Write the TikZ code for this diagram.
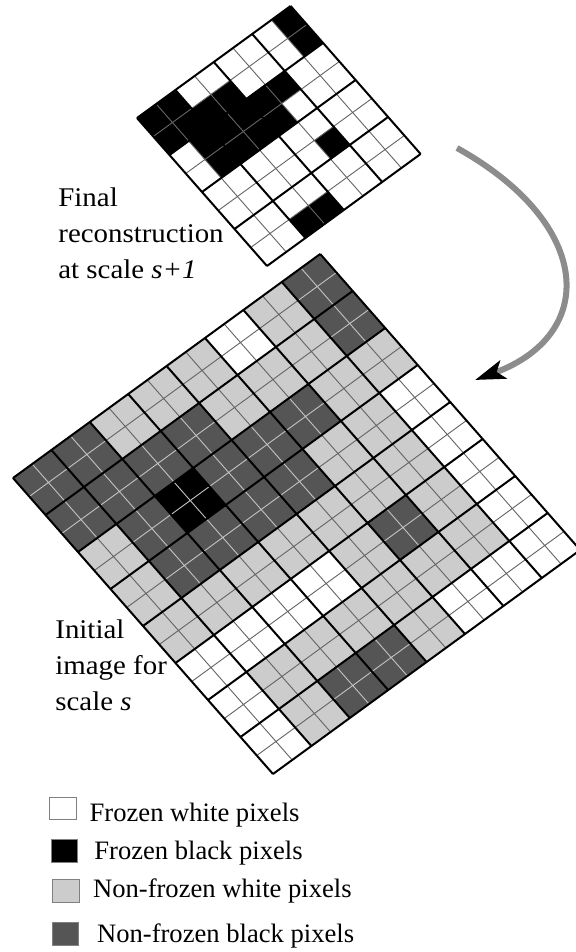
\documentclass[tikz,border=0pt]{standalone}
\usepackage{fontspec}
\setmainfont{Liberation Serif}
\newfontfamily\lblfont{Liberation Serif}[FakeStretch=1.07]
\usetikzlibrary{arrows.meta}
\definecolor{cFW}{RGB}{255,255,255}
\definecolor{cFB}{RGB}{0,0,0}
\definecolor{cNW}{RGB}{204,204,204}
\definecolor{cNB}{RGB}{85,85,85}
\definecolor{arrowgray}{RGB}{140,140,140}
\definecolor{thindark}{RGB}{100,100,100}
\definecolor{thinlight}{RGB}{195,195,195}
\definecolor{boxedge}{RGB}{128,128,128}
\tikzset{
  thinline/.style={line width=0.45pt},
  thinFW/.style={draw=thindark},
  thinNW/.style={draw=thindark},
  thinNB/.style={draw=thinlight},
  thinFB/.style={draw=thinlight},
  thickline/.style={line width=1pt, draw=black},
  gridframe/.style={x={(9.6pt,7pt)}, y={(8.125pt,-9.25pt)}},
  labeltext/.style={inner sep=0pt, anchor=north west, align=left,
    font=\lblfont\fontsize{13.5}{18}\selectfont},
  legendtext/.style={inner sep=0pt, anchor=base west,
    font=\fontsize{13.3}{16}\selectfont},
  legendbox/.style={inner sep=0pt, minimum width=13.4pt, minimum height=11.4pt,
    draw=boxedge, line width=0.5pt},
  bigarrow/.style={draw=arrowgray, line width=3pt,
    -{Stealth[length=15pt, width=9.5pt, inset=3.5pt, black]}}
}
\begin{document}
\begin{tikzpicture}[x=0.5pt, y=-0.5pt]
\useasboundingbox (0,0) rectangle (575,952);

% ---------- top grid: final reconstruction at scale s+1 ----------
\begin{scope}[shift={(137,118)}, gridframe]
  \foreach \rowlist [count=\ri from 0] in {
      {FB,FB,FW,FW,FW,FW,FW,FB},
      {FB,FB,FB,FB,FW,FW,FW,FB},
      {FW,FB,FB,FB,FB,FB,FW,FW},
      {FW,FB,FB,FB,FB,FW,FW,FW},
      {FW,FW,FW,FW,FW,FW,FW,FW},
      {FW,FW,FW,FW,FW,FB,FW,FW},
      {FW,FW,FW,FW,FW,FW,FW,FW},
      {FW,FW,FB,FB,FW,FW,FW,FW}} {
    \foreach \cc [count=\ci from 0] in \rowlist {
      \fill[c\cc] (\ci,\ri) -- ++(1,0) -- ++(0,1) -- ++(-1,0) -- cycle;
    }
  }
  \foreach \i in {1,3,5,7} {
    \draw[thinline, draw=thindark] (\i,0) -- (\i,8) (0,\i) -- (8,\i);
  }
  \foreach \i in {0,2,4,6,8} {
    \draw[thickline] (\i,0) -- (\i,8) (0,\i) -- (8,\i);
  }
\end{scope}

% ---------- bottom grid: initial image for scale s ----------
\begin{scope}[shift={(13,478)}, gridframe]
  \foreach \rowlist [count=\ri from 0] in {
      {NB,NB,NW,NW,NW,FW,NW,NB},
      {NB,NB,NB,NB,NW,NW,NW,NB},
      {NW,NB,FB,NB,NB,NB,NW,NW},
      {NW,NB,NB,NB,NB,NW,NW,FW},
      {NW,NW,NW,NW,NW,NW,NW,FW},
      {FW,FW,FW,FW,NW,NB,NW,FW},
      {FW,NW,NW,NW,NW,NW,NW,FW},
      {FW,NW,NB,NB,NW,FW,FW,FW}} {
    \foreach \cc [count=\ci from 0] in \rowlist {
      \fill[c\cc] (2*\ci,2*\ri) -- ++(2,0) -- ++(0,2) -- ++(-2,0) -- cycle;
      \draw[thinline, thin\cc] (2*\ci+1,2*\ri) -- ++(0,2)
                               (2*\ci,2*\ri+1) -- ++(2,0);
    }
  }
  \foreach \i in {0,2,...,16} {
    \draw[thickline] (\i,0) -- (\i,16) (0,\i) -- (16,\i);
  }
\end{scope}

% ---------- labels ----------
\node[labeltext] (lblfinal) at (58,187.5)
  {Final\\reconstruction\\at scale \textit{s+1}};
\node[labeltext] (lblinit) at (55,619.5)
  {Initial\\image for\\scale \textit{s}};

% ---------- arrow ----------
\coordinate (arrstart) at (457,148);
\coordinate (arrend) at (475,380);
\draw[bigarrow] (arrstart) .. controls (595,225) and (597,335) .. (arrend);

% ---------- legend ----------
\node[legendbox, fill=cFW] (boxfw) at (63.3,808.5) {};
\node[legendbox, fill=cFB] (boxfb) at (64.5,851.3) {};
\node[legendbox, fill=cNW] (boxnw) at (65.8,891.3) {};
\node[legendbox, fill=cNB] (boxnb) at (65.5,934) {};
\node[legendtext] (txtfw) at (89.3,821) {Frozen white pixels};
\node[legendtext] (txtfb) at (94,859.3) {Frozen black pixels};
\node[legendtext] (txtnw) at (92.7,897.7) {Non-frozen white pixels};
\node[legendtext] (txtnb) at (96.7,942.7) {Non-frozen black pixels};
\end{tikzpicture}
\end{document}
